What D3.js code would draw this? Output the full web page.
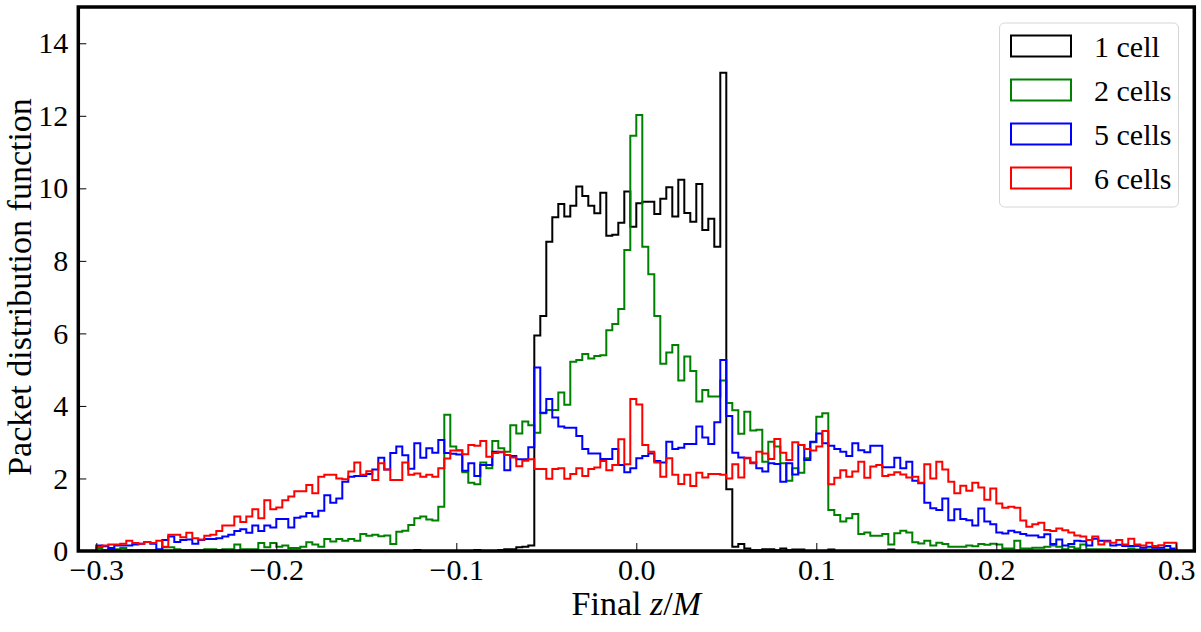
<!DOCTYPE html>
<html>
<head>
<meta charset="utf-8">
<script src="https://cdn.jsdelivr.net/npm/d3@7/dist/d3.min.js"></script>
<style>
  body { margin: 0; background: #fff; }
  text { font-family: "Liberation Serif", "DejaVu Serif", serif; fill: #000; }
</style>
</head>
<body>
<div id="chart"></div>
<script>
// constant values
const w = 1201, h = 632;
const margin = { left: 78.3, right: 1201 - 1194.3, top: 7, bottom: 632 - 551 };

// histogram: 180 bins from -0.3 to 0.3
const binStart = -0.3, binWidth = 1 / 300;

const cell1 = [
  0,0,0,0,0,0,0,0,0,0, 0,0,0,0,0,0,0,0,0,0,
  0,0,0,0,0,0,0,0,0,0, 0,0,0,0,0,0,0,0,0,0,
  0,0,0,0,0,0,0,0,0,0, 0,0,0,0.03,0,0,0,0,0,0,
  0,0,0,0.03,0,0,0,0.03,0.05,0.05, 0.1,0.12,0.15,5.94,6.48,8.53,9.2,9.57,9.22,9.52,
  10.05,9.79,9.52,9.31,9.88,8.69,8.72,9.05,9.91,8.94, 9.59,9.63,9.63,9.29,9.71,10.03,9.22,10.24,9.32,9.08,
  10.12,8.85,9.16,8.39,13.19,1.7,0.12,0.19,0.07,0.02, 0.02,0.05,0.05,0.02,0.07,0.02,0.04,0.04,0,0,
  0,0,0.04,0,0,0,0,0,0,0, 0,0,0.04,0,0,0,0,0,0,0,
  0,0,0,0,0,0,0,0,0,0, 0,0,0,0,0,0,0,0,0,0,
  0,0,0,0,0,0,0,0,0,0, 0,0,0,0,0,0,0,0,0,0
];

const cell2 = [
  0.08,0.02,0.05,0.05,0.08,0.03,0.02,0.03,0.02,0.02, 0.03,0.1,0.1,0.05,0.02,0.03,0.03,0.02,0.05,0.05,
  0.03,0.05,0.05,0.18,0.05,0.05,0.05,0.22,0.1,0.22, 0.12,0.15,0.08,0.08,0.12,0.24,0.18,0.12,0.33,0.26,
  0.33,0.28,0.33,0.28,0.47,0.42,0.45,0.41,0.43,0.19, 0.53,0.56,0.72,0.9,0.95,0.87,0.84,1.22,3.76,2.88,
  2.78,2.17,1.88,1.84,2.44,2.28,3.03,2.83,2.74,3.47, 3.24,3.57,3.47,3.26,3.8,3.89,3.89,4.37,4.03,5.22,
  5.27,5.43,5.31,5.38,5.4,6.09,6.26,6.67,8.3,11.45, 12.02,8.39,7.63,6.48,5.16,5.47,5.68,4.7,5.36,4.96,
  4.12,4.44,4.26,4.26,4.7,4.08,3.88,3.23,3.84,3.32, 3.34,2.46,3.01,2.88,2.42,1.94,2.28,2.16,2.56,3.0,
  3.7,3.8,1.13,0.99,0.81,0.9,1.02,0.47,0.51,0.42, 0.42,0.47,0.18,0.49,0.56,0.51,0.24,0.21,0.28,0.15,
  0.23,0.19,0.12,0.12,0.12,0.15,0.13,0.19,0.17,0.2, 0.18,0.07,0.07,0.28,0.07,0.07,0.09,0.09,0.12,0.15,
  0.12,0.05,0.12,0.07,0.18,0.05,0.05,0.05,0.05,0.03, 0.03,0.03,0.07,0.04,0.04,0.04,0.04,0.04,0.04,0.04
];

const cell5 = [
  0.15,0.13,0.08,0.15,0.15,0.15,0.18,0.2,0.25,0.2, 0.05,0.3,0.4,0.25,0.3,0.32,0.2,0.3,0.33,0.33,
  0.35,0.4,0.45,0.55,0.6,0.5,0.7,0.55,0.7,0.65, 0.88,0.88,0.65,0.92,0.95,1.05,0.95,1.11,1.54,1.33,
  1.45,1.91,2.05,2.07,2.07,2.12,2.25,2.57,2.25,2.7, 2.88,2.64,2.27,2.97,2.57,2.83,2.71,3.06,2.7,2.68,
  2.66,2.21,2.42,2.07,2.37,2.37,2.74,2.72,2.23,2.62, 2.53,2.53,2.86,5.06,3.81,4.19,3.68,3.43,3.4,3.4,
  3.17,2.81,2.69,2.69,2.54,2.54,2.81,2.37,2.17,2.28, 2.56,2.62,2.69,2.48,2.44,3.01,2.81,2.85,2.95,2.95,
  3.43,3.13,2.95,3.55,5.27,3.72,2.71,2.58,2.56,2.44, 2.28,2.19,2.42,2.4,1.91,2.42,2.11,2.92,2.51,3.01,
  3.24,2.97,2.9,2.81,2.74,2.62,2.97,2.78,2.72,2.9, 2.9,2.31,2.31,2.57,2.28,2.46,1.94,1.87,1.33,1.18,
  1.13,1.45,0.85,1.15,0.88,0.85,0.7,1.17,0.81,0.74, 0.51,0.48,0.56,0.52,0.47,0.43,0.43,0.38,0.46,0.19,
  0.32,0.15,0.19,0.28,0.27,0.15,0.34,0.28,0.28,0.15, 0.17,0.14,0.14,0.14,0.09,0.12,0.09,0.09,0.14,0.07
];

const cell6 = [
  0.12,0.15,0.18,0.18,0.2,0.28,0.22,0.2,0.25,0.22, 0.28,0.12,0.45,0.45,0.38,0.5,0.35,0.32,0.42,0.45,
  0.55,0.7,0.7,0.95,0.8,0.95,1.15,0.9,1.4,1.15, 1.2,1.4,1.5,1.65,1.65,1.82,1.59,2.05,2.1,2.1,
  2.0,1.98,2.19,2.44,2.1,2.2,1.96,2.42,2.25,1.96, 1.96,2.44,2.1,2.14,2.05,2.1,2.05,2.28,2.55,2.77,
  2.77,2.67,2.92,2.9,3.03,2.6,2.7,2.74,2.65,2.58, 2.34,2.49,2.53,2.26,2.26,1.99,2.26,2.28,1.99,2.12,
  2.28,2.07,2.26,2.3,2.48,2.23,2.37,3.08,2.39,4.19, 4.04,2.92,2.74,2.44,2.05,2.56,2.1,1.85,2.1,1.79,
  2.16,2.03,2.12,2.12,2.1,2.0,2.39,2.03,2.57,2.42, 2.74,2.69,2.54,3.09,2.71,2.51,3.0,2.92,2.81,2.77,
  2.88,3.31,1.84,2.02,2.23,2.05,2.19,2.46,2.02,2.33, 2.37,2.07,2.1,2.17,2.11,2.03,2.05,1.88,2.39,2.0,
  2.46,2.25,1.91,1.59,1.8,1.66,1.88,1.75,1.41,1.72, 1.31,1.19,1.22,1.19,0.84,0.67,0.74,0.78,0.58,0.55,
  0.62,0.57,0.51,0.43,0.4,0.3,0.4,0.18,0.26,0.23, 0.3,0.18,0.34,0.18,0.15,0.23,0.14,0.16,0.23,0.23
];

const seriesNames = ['1 cell', '2 cells', '5 cells', '6 cells'];
const seriesColors = ['#000000', '#008000', '#0000ff', '#ff0000'];
const seriesData = [cell1, cell2, cell5, cell6];

const xTicks = [-0.3, -0.2, -0.1, 0.0, 0.1, 0.2, 0.3];
const yTicks = [0, 2, 4, 6, 8, 10, 12, 14];

const svg = d3.select('#chart')
  .append('svg')
  .attr('width', w)
  .attr('height', h)
  .style('background-color', '#fff');

const xScale = d3.scaleLinear()
  .domain([-0.31, 0.31])
  .range([margin.left, w - margin.right]);

const yScale = d3.scaleLinear()
  .domain([0, 15])
  .range([h - margin.bottom, margin.top]);

svg.append('clipPath').attr('id', 'plotClip')
  .append('rect')
  .attr('x', margin.left)
  .attr('y', margin.top)
  .attr('width', w - margin.left - margin.right)
  .attr('height', h - margin.top - margin.bottom);

// step outline for one histogram
const stepPoints = values => {
  const pts = [[binStart, 0]];
  values.forEach((v, i) => {
    pts.push([binStart + i * binWidth, v]);
    pts.push([binStart + (i + 1) * binWidth, v]);
  });
  pts.push([binStart + values.length * binWidth, 0]);
  return pts;
};

const line = d3.line()
  .x(d => xScale(d[0]))
  .y(d => yScale(d[1]));

const plot = svg.append('g').attr('clip-path', 'url(#plotClip)');

seriesData.forEach((vals, k) => {
  plot.append('path')
    .attr('d', line(stepPoints(vals)))
    .attr('fill', 'none')
    .attr('stroke', seriesColors[k])
    .attr('stroke-width', 2)
    .attr('stroke-linejoin', 'miter');
});

// axes with inward ticks
const x_axis = d3.axisBottom(xScale)
  .tickValues(xTicks)
  .tickFormat(d3.format('.1f'))
  .tickSize(-8)
  .tickPadding(8);

const gx = svg.append('g')
  .attr('transform', 'translate(0,' + (h - margin.bottom) + ')')
  .call(x_axis);
gx.select('.domain').remove();
gx.selectAll('line').attr('stroke', '#000').attr('stroke-width', 1);
gx.selectAll('text')
  .style('font-size', '30px')
  .style('font-family', '"Liberation Serif", serif');

const y_axis = d3.axisLeft(yScale)
  .tickValues(yTicks)
  .tickFormat(d3.format('d'))
  .tickSize(-8)
  .tickPadding(10);

const gy = svg.append('g')
  .attr('transform', 'translate(' + margin.left + ',0)')
  .call(y_axis);
gy.select('.domain').remove();
gy.selectAll('line').attr('stroke', '#000').attr('stroke-width', 1);
gy.selectAll('text')
  .style('font-size', '30px')
  .style('font-family', '"Liberation Serif", serif');

// frame
svg.append('rect')
  .attr('x', margin.left)
  .attr('y', margin.top)
  .attr('width', w - margin.left - margin.right)
  .attr('height', h - margin.top - margin.bottom)
  .attr('fill', 'none')
  .attr('stroke', '#000')
  .attr('stroke-width', 3.5);

// axis labels
const xl = svg.append('text')
  .attr('x', (margin.left + w - margin.right) / 2)
  .attr('y', 615)
  .attr('text-anchor', 'middle')
  .style('font-size', '34px');
xl.append('tspan').text('Final ');
xl.append('tspan').style('font-style', 'italic').text('z');
xl.append('tspan').text('/');
xl.append('tspan').style('font-style', 'italic').text('M');

svg.append('text')
  .attr('transform', 'translate(31,287) rotate(-90)')
  .attr('text-anchor', 'middle')
  .style('font-size', '34px')
  .text('Packet distribution function');

// legend
const legend = svg.append('g');
legend.append('rect')
  .attr('x', 999.5)
  .attr('y', 23)
  .attr('width', 179)
  .attr('height', 184)
  .attr('rx', 5)
  .attr('fill', '#fff')
  .attr('stroke', '#d6d6d6')
  .attr('stroke-width', 1);

seriesNames.forEach((name, k) => {
  const cy = 46 + k * 44;
  legend.append('rect')
    .attr('x', 1011)
    .attr('y', cy - 10.5)
    .attr('width', 60)
    .attr('height', 21)
    .attr('fill', 'none')
    .attr('stroke', seriesColors[k])
    .attr('stroke-width', 2);
  legend.append('text')
    .attr('x', 1094)
    .attr('y', cy)
    .attr('dy', '0.35em')
    .style('font-size', '30px')
    .text(name);
});
</script>
</body>
</html>
